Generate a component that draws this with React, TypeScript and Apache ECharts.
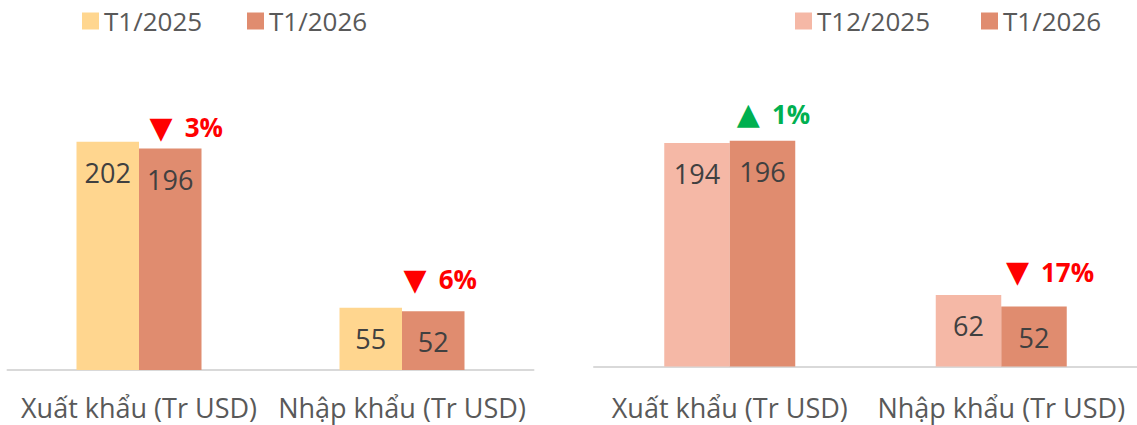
import React, { useEffect, useRef } from "react";
import * as echarts from "echarts";

const categories = ["Xuất khẩu (Tr USD)", "Nhập khẩu (Tr USD)"];

const leftPrevName = "T1/2025";
const leftPrev = [202, 55];
const rightPrevName = "T12/2025";
const rightPrev = [194, 62];
const currName = "T1/2026";
const curr = [196, 52];

const leftChanges = ["3%", "6%"];
const leftDirs = ["down", "down"];
const rightChanges = ["1%", "17%"];
const rightDirs = ["up", "down"];

const FONT = "'Open Sans', sans-serif";
const C_YELLOW = "#FFD68F";
const C_SALMON = "#F5B8A6";
const C_ORANGE = "#E08C6F";
const C_TEXT = "#595959";
const C_LABEL = "#404040";
const C_RED = "#FF0000";
const C_GREEN = "#00B050";

function annot(change: string, dir: string) {
  const key = dir === "up" ? "up" : "dn";
  const tri = dir === "up" ? "▲" : "▼";
  const pk = dir === "up" ? "pu" : "pd";
  return `{${key}|${tri}}{${pk}|${change}}`;
}

const richAnnot = {
  up: { fontFamily: "DejaVu Sans", fontSize: 30, color: C_GREEN, padding: [0, 12, 0, 0] },
  dn: { fontFamily: "DejaVu Sans", fontSize: 30, color: C_RED, padding: [0, 12, 0, 0] },
  pu: { fontFamily: FONT, fontSize: 26, fontWeight: "bold", color: C_GREEN },
  pd: { fontFamily: FONT, fontSize: 26, fontWeight: "bold", color: C_RED },
};

export default function App() {
  const ref = useRef<HTMLDivElement>(null);
  useEffect(() => {
    document.body.style.margin = "0";
    const chart = echarts.init(ref.current!, null, { renderer: "svg" });

    const valueLabel = {
      show: true,
      position: "insideTop",
      distance: 17,
      fontFamily: FONT,
      fontSize: 27,
      color: C_LABEL,
    };

    const leftOffsets = [
      [16, -21.5],
      [7, -32],
    ];
    const rightOffsets = [
      [11, -26.7],
      [16, -34.6],
    ];

    const mk = (changes: string[], dirs: string[], offsets: number[][]) => ({
      symbol: "rect",
      symbolSize: 1,
      itemStyle: { color: "rgba(0,0,0,0)" },
      silent: true,
      data: categories.map((_, i) => ({
        coord: [i, curr[i]],
        label: {
          show: true,
          position: "inside",
          offset: offsets[i],
          formatter: annot(changes[i], dirs[i]),
          rich: richAnnot,
        },
      })),
    });

    const xAxisBase = (gridIndex: number, margin: number) => ({
      type: "category",
      gridIndex,
      data: categories,
      axisTick: { show: false },
      axisLine: { show: true, lineStyle: { color: "#D9D9D9", width: 2 } },
      axisLabel: {
        fontFamily: FONT,
        fontSize: 27,
        lineHeight: 27,
        color: C_TEXT,
        margin,
        interval: 0,
      },
    });

    const legendItem = (name: string, left: number) => ({
      data: [name],
      left,
      top: 8,
      icon: "rect",
      itemWidth: 17,
      itemHeight: 17,
      padding: 0,
      textStyle: { fontFamily: FONT, fontSize: 26, color: C_TEXT },
      selectedMode: false,
    });

    chart.setOption({
      animation: false,
      backgroundColor: "#FFFFFF",
      legend: [
        legendItem(leftPrevName, 82),
        legendItem(currName, 247),
        legendItem(rightPrevName, 795),
        legendItem(currName, 981),
      ],
      grid: [
        { left: 7.5, top: 53.6, width: 526, height: 316.4 },
        { left: 594, top: 43.9, width: 548, height: 322.6 },
      ],
      xAxis: [xAxisBase(0, 24), xAxisBase(1, 27)],
      yAxis: [
        { type: "value", gridIndex: 0, min: 0, max: 280, show: false, splitLine: { show: false } },
        { type: "value", gridIndex: 1, min: 0, max: 280, show: false, splitLine: { show: false } },
      ],
      series: [
        {
          name: leftPrevName,
          type: "bar",
          xAxisIndex: 0,
          yAxisIndex: 0,
          data: leftPrev,
          barWidth: 62.5,
          barGap: "0%",
          itemStyle: { color: C_YELLOW },
          label: valueLabel,
        },
        {
          name: currName,
          type: "bar",
          xAxisIndex: 0,
          yAxisIndex: 0,
          data: curr,
          barWidth: 62.5,
          barGap: "0%",
          itemStyle: { color: C_ORANGE },
          label: valueLabel,
          markPoint: mk(leftChanges, leftDirs, leftOffsets),
        },
        {
          name: rightPrevName,
          type: "bar",
          xAxisIndex: 1,
          yAxisIndex: 1,
          data: rightPrev,
          barWidth: 65.5,
          barGap: "0%",
          itemStyle: { color: C_SALMON },
          label: valueLabel,
        },
        {
          name: currName,
          type: "bar",
          xAxisIndex: 1,
          yAxisIndex: 1,
          data: curr,
          barWidth: 65.5,
          barGap: "0%",
          itemStyle: { color: C_ORANGE },
          label: valueLabel,
          markPoint: mk(rightChanges, rightDirs, rightOffsets),
        },
      ],
    });
    return () => chart.dispose();
  }, []);
  return <div ref={ref} style={{ width: 1137, height: 425 }} />;
}
